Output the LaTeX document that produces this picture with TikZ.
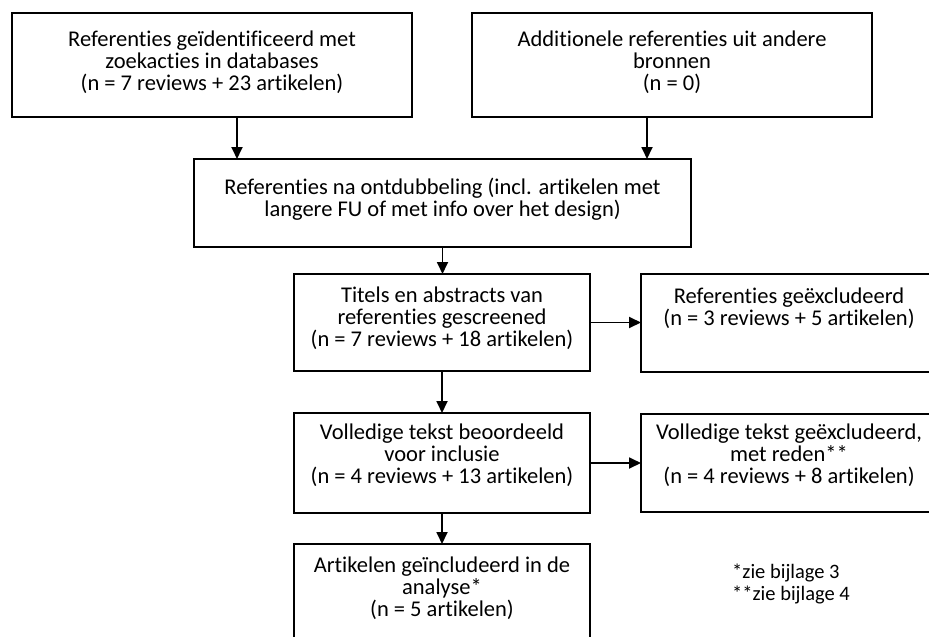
\documentclass[tikz,border=0pt]{standalone}
\usepackage{fontspec}
\setmainfont{Carlito}[Ligatures=NoCommon]
\usetikzlibrary{arrows.meta}
\begin{document}
\begin{tikzpicture}[x=1pt,y=-1pt,
  box/.style={draw=black, line width=1.7pt, rectangle, inner sep=0pt, outer sep=0pt},
  txt/.style={align=center, inner sep=0pt, font=\fontsize{22.5}{22}\selectfont},
  arr/.style={draw=black, line width=1.8pt, -{Triangle[length=12pt,width=11pt]}}]
\useasboundingbox (0,0) rectangle (929,637);
\clip (0,0) rectangle (929,637);
% boxes
\node[box, minimum width=400pt, minimum height=104pt] (b1) at (212,65) {};
\node[box, minimum width=400pt, minimum height=104pt] (b2) at (672,65) {};
\node[box, minimum width=497pt, minimum height=88pt] (b3) at (442.5,203) {};
\node[box, minimum width=296pt, minimum height=97pt] (b4) at (442,322.5) {};
\node[box, minimum width=296pt, minimum height=98pt] (b5) at (789,323) {};
\node[box, minimum width=296pt, minimum height=100pt] (b6) at (442,463) {};
\node[box, minimum width=296pt, minimum height=98pt] (b7) at (789,463) {};
\node[box, minimum width=296pt, minimum height=116pt] (b8) at (442,602) {};
% texts
\node[txt] (t1) at (212,62) {Referenties geïdentificeerd met\\zoekacties in databases\\(n = 7 reviews + 23 artikelen)};
\node[txt] (t2) at (672,62) {Additionele referenties uit andere\\bronnen\\(n = 0)};
\node[txt] (t3) at (442.5,199) {Referenties na ontdubbeling (incl. artikelen met\\langere FU of met info over het design)};
\node[txt] (t4) at (442,318) {Titels en abstracts van\\referenties gescreened\\(n = 7 reviews + 18 artikelen)};
\node[txt] (t5) at (789,308) {Referenties geëxcludeerd\\(n = 3 reviews + 5 artikelen)};
\node[txt] (t6) at (442,455) {Volledige tekst beoordeeld\\voor inclusie\\(n = 4 reviews + 13 artikelen)};
\node[txt] (t7) at (789,455) {Volledige tekst geëxcludeerd,\\met reden**\\(n = 4 reviews + 8 artikelen)};
\node[txt] (t8) at (442,588) {Artikelen geïncludeerd in de\\analyse*\\(n = 5 artikelen)};
\node[txt, align=left, anchor=west, font=\fontsize{20.5}{22}\selectfont] (fn) at (732,584) {*zie bijlage 3\\**zie bijlage 4};
% connectors
\draw[arr] ([xshift=25pt]b1.south) -- ([xshift=25pt]b1.south |- b3.north);
\draw[arr] ([xshift=-25pt]b2.south) -- ([xshift=-25pt]b2.south |- b3.north);
\draw[arr] (b3.south) -- (b3.south |- b4.north);
\draw[arr] (b4.east) -- (b4.east -| b5.west);
\draw[arr] (b4.south) -- (b6.north);
\draw[arr] (b6.east) -- (b6.east -| b7.west);
\draw[arr] (b6.south) -- (b8.north);
\end{tikzpicture}
\end{document}
